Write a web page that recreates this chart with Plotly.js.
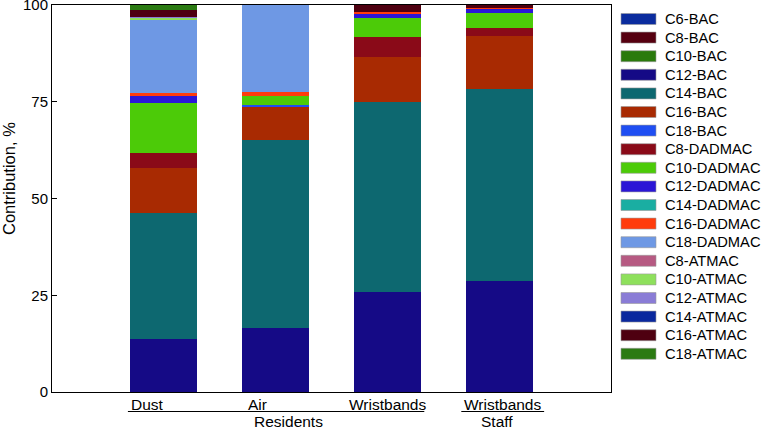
<!DOCTYPE html>
<html>
<head>
<meta charset="utf-8">
<script src="https://cdn.plot.ly/plotly-3.0.1.min.js"></script>
<style>
  html, body { margin: 0; padding: 0; background: #fff; }
  #chart { width: 762px; height: 430px; }
</style>
</head>
<body>
<div id="chart"></div>
<script>
// Sample types (x positions 0..3) and the groups they belong to
const categories = ['Dust', 'Air', 'Wristbands', 'Wristbands'];
const groups = ['Residents', 'Staff'];
const yTitle = 'Contribution, %';
const yTicks = [0, 25, 50, 75, 100];

// Compound names, stacked bottom to top in this order
const compounds = [
  'C6-BAC', 'C8-BAC', 'C10-BAC', 'C12-BAC', 'C14-BAC', 'C16-BAC', 'C18-BAC',
  'C8-DADMAC', 'C10-DADMAC', 'C12-DADMAC', 'C14-DADMAC', 'C16-DADMAC', 'C18-DADMAC',
  'C8-ATMAC', 'C10-ATMAC', 'C12-ATMAC', 'C14-ATMAC', 'C16-ATMAC', 'C18-ATMAC'
];

// Contribution (%) per compound: [Dust, Air, Wristbands (residents), Wristbands (staff)]
const c6BAC      = [0, 0, 0, 0];
const c8BAC      = [0, 0, 0, 0];
const c10BAC     = [0, 0, 0, 0];
const c12BAC     = [13.8, 16.5, 25.9, 28.7];
const c14BAC     = [32.5, 48.6, 49.0, 49.6];
const c16BAC     = [11.7, 8.5, 11.6, 13.6];
const c18BAC     = [0, 0.6, 0, 0];
const c8DADMAC   = [3.7, 0, 5.2, 2.1];
const c10DADMAC  = [13.0, 2.2, 4.9, 3.9];
const c12DADMAC  = [1.9, 0, 1.1, 1.1];
const c14DADMAC  = [0, 0, 0, 0];
const c16DADMAC  = [0.6, 1.0, 0.5, 0.2];
const c18DADMAC  = [18.8, 22.6, 0, 0];
const c8ATMAC    = [0, 0, 0, 0];
const c10ATMAC   = [0.6, 0, 0, 0];
const c12ATMAC   = [0.4, 0, 0, 0];
const c14ATMAC   = [0, 0, 0, 0];
const c16ATMAC   = [1.7, 0, 1.8, 0.8];
const c18ATMAC   = [1.3, 0, 0, 0];

const seriesValues = [
  c6BAC, c8BAC, c10BAC, c12BAC, c14BAC, c16BAC, c18BAC,
  c8DADMAC, c10DADMAC, c12DADMAC, c14DADMAC, c16DADMAC, c18DADMAC,
  c8ATMAC, c10ATMAC, c12ATMAC, c14ATMAC, c16ATMAC, c18ATMAC
];

const colors = [
  '#0b2c9e', '#560010', '#2a7a0c', '#150a86', '#0d6870', '#a82a02', '#1f4ef2',
  '#8a0a18', '#4ccb08', '#2b16d6', '#1aaea2', '#ff3c0c', '#6e98e4',
  '#b65a82', '#8ee05c', '#8a7cd6', '#0a289e', '#4e0010', '#2b7a12'
];

const font = 'Arial, "Liberation Sans", Helvetica, sans-serif';
const xs = categories.map((_, i) => i);

const traces = compounds.map((name, k) => ({
  type: 'bar',
  name: name,
  x: xs,
  y: seriesValues[k],
  width: 0.6,
  marker: { color: colors[k], line: { width: 0 } },
  showlegend: false,
  hoverinfo: 'name+y'
}));

// Plot area geometry in pixels (used for the hand-built legend and labels)
const W = 762, H = 430;
const mL = 52, mR = 151, mT = 5, mB = 38;
const plotW = W - mL - mR, plotH = H - mT - mB;
const px2paperX = px => (px - mL) / plotW;
const px2paperY = py => (H - mB - py) / plotH;

const shapes = [];
const annotations = [];

// Legend: wide colour swatches with labels to the right
const legTop = 19, legStep = 18.6;
compounds.forEach((name, k) => {
  const cy = legTop + k * legStep;
  shapes.push({
    type: 'rect', xref: 'paper', yref: 'paper',
    x0: px2paperX(621), x1: px2paperX(656),
    y0: px2paperY(cy - 5.5), y1: px2paperY(cy + 5.5),
    fillcolor: colors[k], line: { color: '#9a9a9a', width: 0.6 }
  });
  annotations.push({
    xref: 'paper', yref: 'paper', x: px2paperX(663), y: px2paperY(cy),
    xanchor: 'left', yanchor: 'middle', showarrow: false,
    text: name, font: { family: font, size: 14.7, color: '#000' }
  });
});

// Category labels beneath the bars, left-aligned to their underline
const labelX = [-0.3125, 0.732, 1.643, 2.67];
categories.forEach((c, i) => {
  annotations.push({
    xref: 'x', yref: 'paper', x: labelX[i], y: px2paperY(405),
    xanchor: 'left', yanchor: 'middle', showarrow: false,
    text: c, font: { family: font, size: 15.5, color: '#000' }
  });
});

// Group brackets (underlines) and group names
const groupSpan = [[-0.321, 2.330], [2.661, 3.402]];
const groupCenter = [1.116, 2.982];
groups.forEach((g, i) => {
  shapes.push({
    type: 'line', xref: 'x', yref: 'paper',
    x0: groupSpan[i][0], x1: groupSpan[i][1],
    y0: px2paperY(411.5), y1: px2paperY(411.5),
    line: { color: '#000', width: 1 }
  });
  annotations.push({
    xref: 'x', yref: 'paper', x: groupCenter[i], y: px2paperY(421),
    xanchor: 'center', yanchor: 'middle', showarrow: false,
    text: g, font: { family: font, size: 15.5, color: '#000' }
  });
});

// Vertical y-axis title, sitting a little above the axis midpoint
annotations.push({
  xref: 'paper', yref: 'paper', x: px2paperX(9), y: px2paperY(179),
  xanchor: 'center', yanchor: 'middle', showarrow: false, textangle: -90,
  text: yTitle, font: { family: font, size: 16.5, color: '#000' }
});

const layout = {
  width: W, height: H,
  margin: { l: mL, r: mR, t: mT, b: mB, pad: 0 },
  paper_bgcolor: '#fff', plot_bgcolor: '#fff',
  barmode: 'stack',
  showlegend: false,
  font: { family: font, color: '#000' },
  xaxis: {
    range: [-1, 4], showticklabels: false, ticks: '',
    showgrid: false, zeroline: false,
    showline: true, mirror: true, linecolor: '#000', linewidth: 1
  },
  yaxis: {
    range: [0, 100], tickvals: yTicks,
    ticks: 'inside', ticklen: 5, tickcolor: '#000',
    ticklabeloverflow: 'allow',
    tickfont: { family: font, size: 15, color: '#000' },
    showgrid: false, zeroline: false,
    showline: true, mirror: true, linecolor: '#000', linewidth: 1
  },
  shapes: shapes,
  annotations: annotations
};

Plotly.newPlot('chart', traces, layout, { displayModeBar: false, staticPlot: true });
</script>
</body>
</html>
